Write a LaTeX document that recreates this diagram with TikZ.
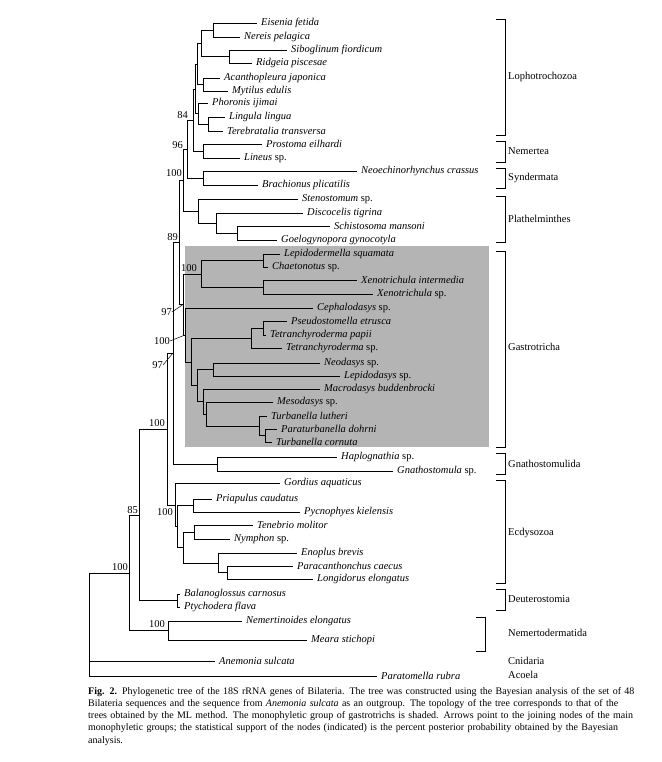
\documentclass[tikz,border=0pt]{standalone}
\usepackage{fontspec}
\setmainfont{Liberation Serif}
\usepackage{tikz}
\usetikzlibrary{positioning}
\definecolor{gastrogray}{HTML}{B4B4B4}

\begin{document}
\begin{tikzpicture}[x=1pt,y=-1pt]
    \tikzset{leaf/.style = {anchor=west, inner xsep=4pt, inner ysep=0pt, font=\fontsize{10.5}{12}\selectfont\itshape}}
    \tikzset{branch/.style = {draw, line width=0.8pt}}
    \tikzset{support/.style = {anchor=east, inner sep=0pt, font=\fontsize{10.5}{12}\selectfont}}
    \tikzset{pointer/.style = {draw, line width=0.5pt}}
    \tikzset{group/.style = {anchor=west, inner sep=0pt, font=\fontsize{10.5}{12}\selectfont}}
    \useasboundingbox (0,0) rectangle (661,762);

    % shaded gastrotrichs
    \fill[gastrogray] (184.5,246) rectangle (489,447);

    % inner nodes
    \coordinate (n1) at (213,30);
    \coordinate (n2) at (229,56.5);
    \coordinate (n3) at (201,43);
    \coordinate (n4) at (203,84.5);
    \coordinate (n5) at (197,64);
    \coordinate (n6) at (208,124);
    \coordinate (n7) at (198,113.5);
    \coordinate (nLoph) at (195,89);
    \coordinate (nNem) at (203,151);
    \coordinate (n84) at (193,120);
    \coordinate (nSyn) at (203,178);
    \coordinate (n96) at (187,149);
    \coordinate (p1) at (237,233);
    \coordinate (p2) at (216,223);
    \coordinate (nPla) at (198,211);
    \coordinate (n100a) at (183,180);
    \coordinate (g1) at (263,260.5);
    \coordinate (g2) at (263,287);
    \coordinate (g3) at (201,274);
    \coordinate (g4) at (263,328);
    \coordinate (g5) at (251,338);
    \coordinate (g6) at (213,369.5);
    \coordinate (g7) at (265,435.5);
    \coordinate (g8) at (259,426);
    \coordinate (g9) at (206,414);
    \coordinate (g10) at (203,401.5);
    \coordinate (g11) at (197,385.5);
    \coordinate (g12) at (191,362);
    \coordinate (g13) at (185,335);
    \coordinate (n97a) at (183,304.5);
    \coordinate (n89) at (179,242);
    \coordinate (nGna) at (217,464);
    \coordinate (n97b) at (173,353);
    \coordinate (e1) at (193,505.5);
    \coordinate (e2) at (194,532);
    \coordinate (e3) at (227,572.5);
    \coordinate (e4) at (218,563);
    \coordinate (e5) at (183,547.5);
    \coordinate (e6) at (177,526.5);
    \coordinate (nEcd) at (175,505);
    \coordinate (n100d) at (167,429);
    \coordinate (nDeu) at (177,600.5);
    \coordinate (n85) at (139,515);
    \coordinate (nNdm) at (168,630.5);
    \coordinate (n100e) at (129,573);
    \coordinate (root) at (89,625);

    % leaves
    \node[leaf] (eis) at (257,23) {Eisenia fetida};
    \node[leaf] (ner) at (240,37) {Nereis pelagica};
    \node[leaf] (sib) at (287,50) {Siboglinum fiordicum};
    \node[leaf] (rid) at (252,63) {Ridgeia piscesae};
    \node[leaf] (aca) at (220,78) {Acanthopleura japonica};
    \node[leaf] (myt) at (228,91) {Mytilus edulis};
    \node[leaf] (pho) at (208,103) {Phoronis ijimai};
    \node[leaf] (lin) at (225,117) {Lingula lingua};
    \node[leaf] (ter) at (223,131) {Terebratalia transversa};
    \node[leaf] (pro) at (262,144) {Prostoma eilhardi};
    \node[leaf] (lis) at (240,158) {Lineus \textup{sp.}};
    \node[leaf] (neo) at (357,171) {Neoechinorhynchus crassus};
    \node[leaf] (bra) at (258,185) {Brachionus plicatilis};
    \node[leaf] (ste) at (298,199) {Stenostomum \textup{sp.}};
    \node[leaf] (dis) at (303,213) {Discocelis tigrina};
    \node[leaf] (sch) at (330,226) {Schistosoma mansoni};
    \node[leaf] (goe) at (277,240) {Goelogynopora gynocotyla};
    \node[leaf] (lep) at (280,254) {Lepidodermella squamata};
    \node[leaf] (cha) at (268,267) {Chaetonotus \textup{sp.}};
    \node[leaf] (xei) at (357,280) {Xenotrichula intermedia};
    \node[leaf] (xes) at (373,294) {Xenotrichula \textup{sp.}};
    \node[leaf] (cep) at (313,308) {Cephalodasys \textup{sp.}};
    \node[leaf] (pse) at (287,321) {Pseudostomella etrusca};
    \node[leaf] (tpa) at (266,335) {Tetranchyroderma papii};
    \node[leaf] (tsp) at (282,348) {Tetranchyroderma \textup{sp.}};
    \node[leaf] (neod) at (320,363) {Neodasys \textup{sp.}};
    \node[leaf] (lepd) at (340,376) {Lepidodasys \textup{sp.}};
    \node[leaf] (mac) at (320,389) {Macrodasys buddenbrocki};
    \node[leaf] (mes) at (273,402) {Mesodasys \textup{sp.}};
    \node[leaf] (tlu) at (267,416) {Turbanella lutheri};
    \node[leaf] (par) at (277,429) {Paraturbanella dohrni};
    \node[leaf] (tco) at (272,442) {Turbanella cornuta};
    \node[leaf] (hap) at (337,457) {Haplognathia \textup{sp.}};
    \node[leaf] (gna) at (393,471) {Gnathostomula \textup{sp.}};
    \node[leaf] (gor) at (280,483) {Gordius aquaticus};
    \node[leaf] (pri) at (212,499) {Priapulus caudatus};
    \node[leaf] (pyc) at (300,512) {Pycnophyes kielensis};
    \node[leaf] (ten) at (253,525) {Tenebrio molitor};
    \node[leaf] (nym) at (230,539) {Nymphon \textup{sp.}};
    \node[leaf] (eno) at (297,553) {Enoplus brevis};
    \node[leaf] (pac) at (293,566) {Paracanthonchus caecus};
    \node[leaf] (lon) at (313,579) {Longidorus elongatus};
    \node[leaf] (bal) at (180,594) {Balanoglossus carnosus};
    \node[leaf] (pty) at (180,607) {Ptychodera flava};
    \node[leaf] (nem) at (242,621) {Nemertinoides elongatus};
    \node[leaf] (mea) at (307,640) {Meara stichopi};
    \node[leaf] (ane) at (215,661) {Anemonia sulcata};
    \node[leaf] (pat) at (377,676) {Paratomella rubra};

    % branches
    \draw[branch] (n1) |- (eis.west) (n1) |- (ner.west);
    \draw[branch] (n2) |- (sib.west) (n2) |- (rid.west);
    \draw[branch] (n3) |- (n1) (n3) |- (n2);
    \draw[branch] (n4) |- (aca.west) (n4) |- (myt.west);
    \draw[branch] (n5) |- (n3) (n5) |- (n4);
    \draw[branch] (n6) |- (lin.west) (n6) |- (ter.west);
    \draw[branch] (n7) |- (pho.west) (n7) |- (n6);
    \draw[branch] (nLoph) |- (n5) (nLoph) |- (n7);
    \draw[branch] (nNem) |- (pro.west) (nNem) |- (lis.west);
    \draw[branch] (n84) |- (nLoph) (n84) |- (nNem);
    \draw[branch] (nSyn) |- (neo.west) (nSyn) |- (bra.west);
    \draw[branch] (n96) |- (n84) (n96) |- (nSyn);
    \draw[branch] (p1) |- (sch.west) (p1) |- (goe.west);
    \draw[branch] (p2) |- (dis.west) (p2) |- (p1);
    \draw[branch] (nPla) |- (ste.west) (nPla) |- (p2);
    \draw[branch] (n100a) |- (n96) (n100a) |- (nPla);
    \draw[branch] (g1) |- (lep.west) (g1) |- (cha.west);
    \draw[branch] (g2) |- (xei.west) (g2) |- (xes.west);
    \draw[branch] (g3) |- (g1) (g3) |- (g2);
    \draw[branch] (g4) |- (pse.west) (g4) |- (tpa.west);
    \draw[branch] (g5) |- (g4) (g5) |- (tsp.west);
    \draw[branch] (g6) |- (neod.west) (g6) |- (lepd.west);
    \draw[branch] (g7) |- (par.west) (g7) |- (tco.west);
    \draw[branch] (g8) |- (tlu.west) (g8) |- (g7);
    \draw[branch] (g9) |- (mes.west) (g9) |- (g8);
    \draw[branch] (g10) |- (mac.west) (g10) |- (g9);
    \draw[branch] (g11) |- (g6) (g11) |- (g10);
    \draw[branch] (g12) |- (g5) (g12) |- (g11);
    \draw[branch] (g13) |- (cep.west) (g13) |- (g12);
    \draw[branch] (n97a) |- (g3) (n97a) |- (g13);
    \draw[branch] (n89) |- (n100a) (n89) |- (n97a);
    \draw[branch] (nGna) |- (hap.west) (nGna) |- (gna.west);
    \draw[branch] (n97b) |- (n89) (n97b) |- (nGna);
    \draw[branch] (e1) |- (pri.west) (e1) |- (pyc.west);
    \draw[branch] (e2) |- (ten.west) (e2) |- (nym.west);
    \draw[branch] (e3) |- (pac.west) (e3) |- (lon.west);
    \draw[branch] (e4) |- (eno.west) (e4) |- (e3);
    \draw[branch] (e5) |- (e2) (e5) |- (e4);
    \draw[branch] (e6) |- (e1) (e6) |- (e5);
    \draw[branch] (nEcd) |- (gor.west) (nEcd) |- (e6);
    \draw[branch] (n100d) |- (n97b) (n100d) |- (nEcd);
    \draw[branch] (nDeu) |- (bal.west) (nDeu) |- (pty.west);
    \draw[branch] (n85) |- (n100d) (n85) |- (nDeu);
    \draw[branch] (nNdm) |- (nem.west) (nNdm) |- (mea.west);
    \draw[branch] (n100e) |- (n85) (n100e) |- (nNdm);
    \draw[branch] (root) |- (n100e) (root) |- (ane.west) (root) |- (pat.west);

    % support values
    \node[support] (s84) at (188,115) {84};
    \node[support] (s96) at (183,145) {96};
    \node[support] (s100a) at (182,173) {100};
    \node[support] (s89) at (178,237) {89};
    \node[support] (s100g) at (197,268) {100};
    \node[support] (s97a) at (172,312) {97};
    \node[support] (s100c) at (170,341) {100};
    \node[support] (s97b) at (163,365) {97};
    \node[support] (s100d) at (165,423) {100};
    \node[support] (s100f) at (173,512) {100};
    \node[support] (s85) at (138,510) {85};
    \node[support] (s100e) at (128,567) {100};
    \node[support] (s100n) at (165,624) {100};
    \draw[pointer] (s97a.east) -- (n97a);
    \draw[pointer] (s100c.east) -- (g13);
    \draw[pointer] (s97b.east) -- (n97b);

    % groups
    \draw[branch] (496,19) -- (505,19) -- (505,135) -- (496,135);
    \node[group] (lop) at (508,77) {Lophotrochozoa};
    \draw[branch] (496,141) -- (505,141) -- (505,162) -- (496,162);
    \node[group] (nmt) at (508,151.5) {Nemertea};
    \draw[branch] (496,168) -- (505,168) -- (505,188) -- (496,188);
    \node[group] (syn) at (508,178) {Syndermata};
    \draw[branch] (496,196) -- (505,196) -- (505,242) -- (496,242);
    \node[group] (pla) at (508,219) {Plathelminthes};
    \draw[branch] (496,251) -- (505,251) -- (505,447) -- (496,447);
    \node[group] (gas) at (508,347) {Gastrotricha};
    \draw[branch] (496,453) -- (505,453) -- (505,474) -- (496,474);
    \node[group] (gnt) at (508,463.5) {Gnathostomulida};
    \draw[branch] (496,480) -- (505,480) -- (505,583) -- (496,583);
    \node[group] (ecd) at (508,533) {Ecdysozoa};
    \draw[branch] (496,589) -- (505,589) -- (505,610) -- (496,610);
    \node[group] (deu) at (508,599.5) {Deuterostomia};
    \draw[branch] (476,617) -- (485,617) -- (485,651) -- (476,651);
    \node[group] (ndm) at (508,633) {Nemertodermatida};
    \node[group] (cni) at (508,661) {Cnidaria};
    \node[group] (aco) at (508,675) {Acoela};

    % caption
    \node[anchor=north west, inner sep=0pt, text width=563pt, align=left,
          font=\fontsize{10}{12.2}\selectfont] (cap) at (88,687) {%
      \makebox[563pt][s]{\textbf{Fig. 2.} Phylogenetic tree of the 18S rRNA genes of Bilateria. The tree was constructed using the Bayesian analysis of the set of 48}\\
      \makebox[563pt][s]{Bilateria sequences and the sequence from \textit{Anemonia sulcata} as an outgroup. The topology of the tree corresponds to that of the}\\
      \makebox[563pt][s]{trees obtained by the ML method. The monophyletic group of gastrotrichs is shaded. Arrows point to the joining nodes of the main}\\
      \makebox[563pt][s]{monophyletic groups; the statistical support of the nodes (indicated) is the percent posterior probability obtained by the Bayesian}\\
      analysis.};
\end{tikzpicture}
\end{document}
